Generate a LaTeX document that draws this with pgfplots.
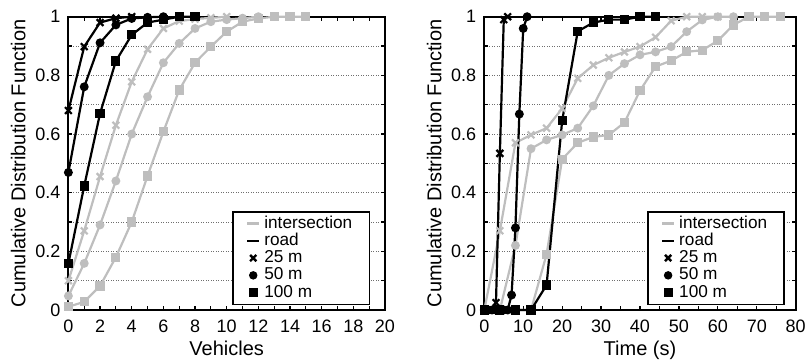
\documentclass[border=0pt]{standalone}
\usepackage{fontspec}
\setmainfont{Liberation Sans}
\usepackage{pgfplots}
\pgfplotsset{compat=1.18}
\definecolor{graycol}{RGB}{190,190,190}
\definecolor{gridcol}{RGB}{110,110,110}
\pgfplotsset{
  cdfaxis/.style={
    anchor=south west, scale only axis, clip=false,
    ymin=0, ymax=1,
    ytick={0,0.2,0.4,0.6,0.8,1},
    minor ytick={0.1,0.3,0.5,0.7,0.9},
    ymajorgrids, yminorgrids,
    major grid style={gridcol, line width=0.45pt, dash pattern=on 0.45pt off 0.8pt},
    minor grid style={gridcol, line width=0.45pt, dash pattern=on 0.45pt off 0.8pt},
    tick align=inside,
    major tick length=2pt, minor tick length=2pt,
    tick style={black, line width=0.6pt},
    axis line style={black, line width=0.9pt},
    /pgf/number format/assume math mode=true,
    tick label style={font=\fontsize{9}{10.8}\selectfont},
    label style={font=\fontsize{9}{10.8}\selectfont},
    yticklabel style={xshift=-0.5pt},
    xticklabel style={yshift=-1.5pt},
    every axis y label/.style={at={(axis description cs:0,0.5)}, xshift=-21.5pt, rotate=90, anchor=base},
    every axis x label/.style={at={(axis description cs:0.5,0)}, anchor=base, yshift=-22.5pt},
    ylabel={Cumulative Distribution Function},
    legend cell align=left,
    legend style={anchor=south east, draw=black, line width=0.7pt, fill=white,
      font=\fontsize{8.6}{9}\selectfont, inner xsep=6.5pt, inner ysep=1.5pt, row sep=0pt,
      nodes={inner xsep=2pt, inner ysep=0.5pt, text height=6.1pt, text depth=1.55pt}},
  },
  inter/.style={graycol, line width=1.1pt, forget plot},
  road/.style={black, line width=1.1pt, forget plot},
  mx/.style={mark=x, mark size=2.4pt, mark options={line width=1.1pt, solid}},
  mc/.style={mark=*, mark size=1.65pt, mark options={solid}},
  ms/.style={mark=square*, mark size=1.75pt, mark options={solid}},
}
\newcommand{\legendentries}{%
  \addlegendimage{legend image code/.code={\draw[graycol, line width=1.1pt] (0pt,0pt) -- (6pt,0pt);}}
  \addlegendentry{intersection}
  \addlegendimage{legend image code/.code={\draw[black, line width=1.1pt] (0pt,0pt) -- (6pt,0pt);}}
  \addlegendentry{road}
  \addlegendimage{legend image code/.code={\draw[black, only marks, mark=x, mark size=2.2pt, line width=1.2pt] plot coordinates {(3pt,0pt)};}}
  \addlegendentry{25 m}
  \addlegendimage{legend image code/.code={\draw[black, only marks, mark=*, mark size=1.75pt] plot coordinates {(3pt,0pt)};}}
  \addlegendentry{50 m}
  \addlegendimage{legend image code/.code={\draw[black, only marks, mark=square*, mark size=1.85pt] plot coordinates {(3pt,0pt)};}}
  \addlegendentry{100 m}
}
\begin{document}
\begin{tikzpicture}
\useasboundingbox (0pt,0pt) rectangle (403.5pt,180pt);
% ---------------- left: vehicles
\begin{axis}[cdfaxis, at={(34.2pt,25pt)}, width=158.3pt, height=146.65pt,
  xmin=0, xmax=20, xtick={0,2,...,20}, minor x tick num=1,
  xlabel={Vehicles},
  legend style={at={(1,0)}, xshift=-7.5pt, yshift=2.5pt}]
\addplot[inter, mx] coordinates {(0,0.10)(1,0.27)(2,0.455)(3,0.63)(4,0.778)(5,0.889)(6,0.96)(7,0.985)(8,0.992)(9,0.996)(10,1)};
\addplot[inter, mc] coordinates {(0,0.048)(1,0.159)(2,0.29)(3,0.44)(4,0.60)(5,0.727)(6,0.843)(7,0.909)(8,0.96)(9,0.983)(10,0.99)(11,0.995)(12,1)};
\addplot[inter, ms] coordinates {(0,0.011)(1,0.028)(2,0.082)(3,0.18)(4,0.30)(5,0.457)(6,0.608)(7,0.75)(8,0.843)(9,0.898)(10,0.949)(11,0.983)(12,0.994)(13,1)(14,1)(15,1)};
\addplot[road, mx] coordinates {(0,0.68)(1,0.898)(2,0.98)(3,0.995)(4,1)};
\addplot[road, mc] coordinates {(0,0.469)(1,0.761)(2,0.911)(3,0.972)(4,0.994)(5,0.998)(6,1)};
\addplot[road, ms] coordinates {(0,0.159)(1,0.423)(2,0.67)(3,0.849)(4,0.938)(5,0.98)(6,0.99)(7,1)(8,1)};
\legendentries
\end{axis}
% ---------------- right: time
\begin{axis}[cdfaxis, at={(242.15pt,25pt)}, width=155.7pt, height=146.65pt,
  xmin=0, xmax=80, xtick={0,10,...,80}, minor x tick num=1,
  xlabel={Time (s)},
  legend style={at={(1,0)}, xshift=-5.4pt, yshift=2.5pt}]
\addplot[inter, mx] coordinates {(0,0)(4,0.27)(8,0.57)(12,0.597)(16,0.62)(20,0.687)(24,0.79)(28,0.835)(32,0.86)(36,0.88)(40,0.898)(44,0.93)(48,0.986)(52,1)(56,1)(60,1)};
\addplot[inter, mc] coordinates {(0,0)(4,0)(8,0.22)(12,0.55)(16,0.58)(20,0.597)(24,0.62)(28,0.696)(32,0.80)(36,0.84)(40,0.87)(44,0.88)(48,0.898)(52,0.949)(56,0.989)(60,1)(64,1)};
\addplot[inter, ms] coordinates {(0,0)(4,0)(8,0)(12,0)(16,0.19)(20,0.514)(24,0.57)(28,0.59)(32,0.597)(36,0.639)(40,0.748)(44,0.83)(48,0.85)(52,0.88)(56,0.886)(60,0.918)(64,0.972)(68,1)(72,1)(76,1)};
\addplot[road, mx] coordinates {(0,0)(1,0)(2,0)(3,0.025)(4,0.534)(5,0.99)(6,1)};
\addplot[road, mc] coordinates {(0,0)(1,0)(2,0)(3,0)(4,0)(5,0)(6,0)(7,0.051)(8,0.28)(9,0.668)(10,0.96)(11,1)};
\addplot[road, ms] coordinates {(0,0)(4,0)(8,0)(12,0)(16,0.085)(20,0.645)(24,0.95)(28,0.98)(32,0.99)(36,0.99)(40,1)(44,1)};
\legendentries
\end{axis}
\end{tikzpicture}
\end{document}
